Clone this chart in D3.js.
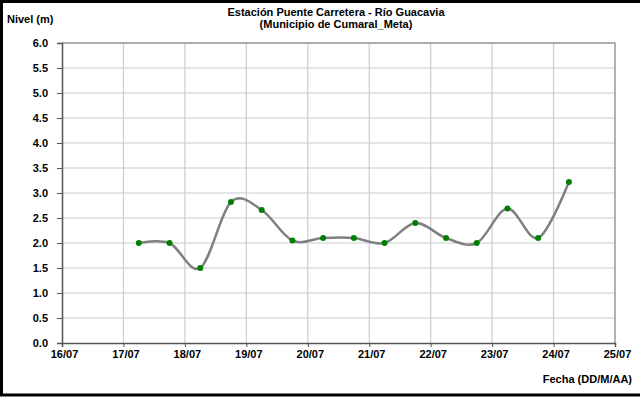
<!DOCTYPE html>
<html>
<head>
<meta charset="utf-8">
<script src="https://cdn.jsdelivr.net/npm/d3@7"></script>
<style>
html,body{margin:0;padding:0;background:#fff;}
svg{display:block;}
text{font-family:"Liberation Sans",Arial,sans-serif;font-weight:bold;fill:#000;}
</style>
</head>
<body>
<svg id="chart" width="640" height="397"></svg>
<script>
const dates = ["2014-07-17T06:00","2014-07-17T18:00","2014-07-18T06:00","2014-07-18T18:00",
  "2014-07-19T06:00","2014-07-19T18:00","2014-07-20T06:00","2014-07-20T18:00",
  "2014-07-21T06:00","2014-07-21T18:00","2014-07-22T06:00","2014-07-22T18:00",
  "2014-07-23T06:00","2014-07-23T18:00","2014-07-24T06:00"];
const levels = [2.0,2.0,1.5,2.82,2.66,2.05,2.1,2.1,2.0,2.4,2.1,2.0,2.69,2.1,3.22];
const yTicks = [0,0.5,1,1.5,2,2.5,3,3.5,4,4.5,5,5.5,6];
const xTickLabels = ["16/07","17/07","18/07","19/07","20/07","21/07","22/07","23/07","24/07","25/07"];
const titleLines = ["Estación Puente Carretera - Río Guacavia","(Municipio de Cumaral_Meta)"];
const yTitle = "Nivel (m)";
const xTitle = "Fecha (DD/M/AA)";

const parse = d3.utcParse("%Y-%m-%dT%H:%M");
const data = dates.map((d,i)=>({t:parse(d), v:levels[i]}));
const xTickDates = xTickLabels.map(s=>{const [dd,mm]=s.split("/");return new Date(Date.UTC(2014,+mm-1,+dd));});

const svg = d3.select("#chart");
const L=62,R=615,T=43,B=343;
const x = d3.scaleUtc().domain([xTickDates[0], xTickDates[xTickDates.length-1]]).range([L,R]);
const y = d3.scaleLinear().domain([0,6]).range([B,T]);

// outer border
svg.append("rect").attr("x",1.5).attr("y",1.5).attr("width",640).attr("height",393.5)
  .attr("fill","none").attr("stroke","#000").attr("stroke-width",3);

// gridlines
svg.append("g").selectAll("line").data(yTicks.slice(1)).join("line")
  .attr("x1",L).attr("x2",R).attr("y1",d=>y(d)).attr("y2",d=>y(d))
  .attr("stroke","#cccccc").attr("stroke-width",1.2);
svg.append("g").selectAll("line").data(xTickDates.slice(1,-1)).join("line")
  .attr("x1",d=>x(d)).attr("x2",d=>x(d)).attr("y1",T).attr("y2",B)
  .attr("stroke","#cccccc").attr("stroke-width",1.2);

// plot border top/right
svg.append("path").attr("d",`M${L},${T}H${R}V${B}`).attr("fill","none")
  .attr("stroke","#9a9a9a").attr("stroke-width",1.5);

// axes
const yAxis = svg.append("g").attr("transform",`translate(${L},0)`)
  .call(d3.axisLeft(y).tickValues(yTicks).tickFormat(d3.format(".1f")).tickSize(5).tickPadding(9));
const xAxis = svg.append("g").attr("transform",`translate(0,${B})`)
  .call(d3.axisBottom(x).tickValues(xTickDates).tickFormat((d,i)=>xTickLabels[i]).tickSize(4).tickPadding(3));
[yAxis,xAxis].forEach(g=>{
  g.select(".domain").attr("stroke","#555").attr("stroke-width",1.5);
  g.selectAll(".tick line").attr("stroke","#555").attr("stroke-width",1);
  g.selectAll("text").attr("font-size",11).attr("font-weight","bold")
   .attr("font-family","Liberation Sans, Arial, sans-serif").attr("fill","#000");
});
xAxis.selectAll(".tick text").attr("dx",2);

// line
const line = d3.line().x(d=>x(d.t)).y(d=>y(d.v)).curve(d3.curveCardinal.tension(0));
svg.append("path").datum(data).attr("d",line).attr("fill","none")
  .attr("stroke","#808080").attr("stroke-width",2.5);
svg.append("g").selectAll("circle").data(data).join("circle")
  .attr("cx",d=>x(d.t)).attr("cy",d=>y(d.v)).attr("r",3).attr("fill","#008000");

// titles
svg.append("text").attr("x",336).attr("y",16).attr("text-anchor","middle").attr("font-size",11)
  .text(titleLines[0]);
svg.append("text").attr("x",336).attr("y",28).attr("text-anchor","middle").attr("font-size",11)
  .text(titleLines[1]);
svg.append("text").attr("x",7).attr("y",23).attr("font-size",11).text(yTitle);
svg.append("text").attr("x",632).attr("y",383).attr("text-anchor","end").attr("font-size",11).text(xTitle);
</script>
</body>
</html>
